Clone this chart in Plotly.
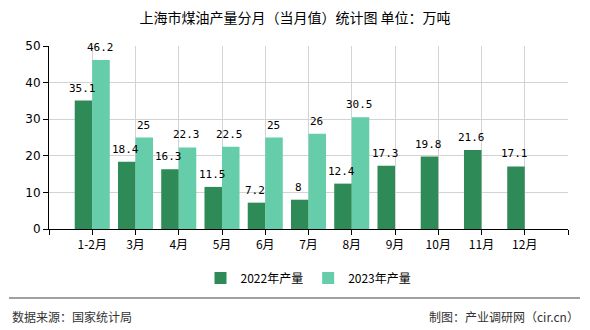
import plotly.graph_objects as go

months = ["1-2月", "3月", "4月", "5月", "6月", "7月", "8月", "9月", "10月", "11月", "12月"]
v2022 = [35.1, 18.4, 16.3, 11.5, 7.2, 8, 12.4, 17.3, 19.8, 21.6, 17.1]
v2023 = [46.2, 25, 22.3, 22.5, 25, 26, 30.5, None, None, None, None]
yticks = [0, 10, 20, 30, 40, 50]

W, H = 590, 330
L, R, T, B = 49, 22, 46, 101
pw, ph = W - L - R, H - T - B
BARGAP = 0.19

def px_x(x):
    return (x - L) / pw

def px_y(y):
    return (H - B - y) / ph

xs = list(range(len(months)))
fig = go.Figure()
fig.add_trace(go.Bar(x=xs, y=v2022, name="2022年产量", marker_color="#2E8B57",
                     marker_line_width=0))
fig.add_trace(go.Bar(x=xs, y=v2023, name="2023年产量", marker_color="#66CDAA",
                     marker_line_width=0))

# value labels drawn on top of all bars, positioned via data coordinates
cat_px = pw / 12.0
off = cat_px * (1 - BARGAP) / 4
lblfont = dict(family="DejaVu Sans Mono", size=11, color="#000")
for vals, sh in ((v2022, -off), (v2023, off)):
    for x, v in zip(xs, vals):
        if v is None:
            continue
        fig.add_annotation(x=x, y=v, text=f"{v:g}", showarrow=False, xshift=sh - 1, yshift=5,
                           yanchor="bottom", xanchor="center", font=lblfont, borderpad=0)

fig.update_layout(
    width=W, height=H, margin=dict(l=L, r=R, t=T, b=B),
    paper_bgcolor="white", plot_bgcolor="white",
    barmode="group", bargap=BARGAP, bargroupgap=0,
    font=dict(family="Noto Sans CJK SC", size=12, color="#000"),
    title=dict(text="上海市煤油产量分月（当月值）统计图 单位：万吨", x=0.5, xanchor="center",
               y=1 - 18 / H, yanchor="middle",
               font=dict(family="Noto Sans CJK SC", size=14, color="#000")),
    legend=dict(orientation="h", x=0.5, xanchor="center", y=px_y(278), yanchor="middle",
                font=dict(family="Noto Sans CJK SC", size=12, color="#000"),
                itemwidth=30, traceorder="normal"),
    showlegend=True,
)
fig.update_xaxes(range=[-1, 11], tickvals=list(range(-1, 12)), ticktext=[""] + months + [""],
                 showgrid=True, gridcolor="#d3d3d3", gridwidth=1,
                 showline=True, linecolor="#000", linewidth=1,
                 ticks="outside", ticklen=5, tickcolor="#000",
                 tickfont=dict(family="Noto Sans CJK SC", size=12, color="#000"),
                 zeroline=False, fixedrange=True)
fig.update_yaxes(range=[0, 50], tickvals=yticks,
                 showgrid=True, gridcolor="#d3d3d3", gridwidth=1,
                 showline=True, linecolor="#000", linewidth=1,
                 ticks="outside", ticklen=5, tickcolor="#000",
                 tickfont=dict(family="DejaVu Sans", size=12, color="#000"),
                 zeroline=False, fixedrange=True)

fig.add_shape(type="line", xref="paper", yref="paper",
              x0=px_x(9), x1=px_x(580), y0=px_y(298), y1=px_y(298),
              line=dict(color="#808080", width=1.5))
fig.add_annotation(text="数据来源：国家统计局", xref="paper", yref="paper",
                   x=px_x(10), y=px_y(316), xanchor="left", yanchor="middle", showarrow=False,
                   font=dict(family="Noto Sans CJK SC", size=12, color="#333"))
fig.add_annotation(text="制图：产业调研网（cir.cn）", xref="paper", yref="paper",
                   x=px_x(581), y=px_y(316), xanchor="right", yanchor="middle", showarrow=False,
                   font=dict(family="Noto Sans CJK SC", size=12, color="#333"))

fig.write_html("out.html")
